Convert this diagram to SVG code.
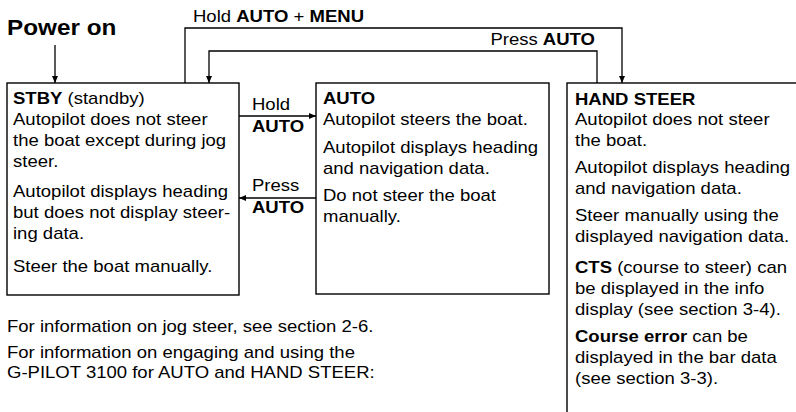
<svg xmlns="http://www.w3.org/2000/svg" width="796" height="412" viewBox="0 0 796 412">
<style>
text{font-family:"Liberation Sans",Arial,sans-serif;font-size:16.4px;fill:#000}
.b{font-weight:bold}
.box{fill:#fff;stroke:#000;stroke-width:1.4}
.con{fill:none;stroke:#000;stroke-width:1.3}
</style>
<defs>
<marker id="ah" markerWidth="8" markerHeight="8" refX="7" refY="4" orient="auto" markerUnits="userSpaceOnUse">
<path d="M0,1 L7,4 L0,7 Z" fill="#000"/>
</marker>
</defs>
<rect width="796" height="412" fill="#fff"/>
<g id="title" transform="translate(7 0) scale(1.13 1)"><text class="b" y="35" style="font-size:21.5px">Power on</text></g>
<g id="connectors">
<line class="con" x1="55" y1="45" x2="55" y2="83" marker-end="url(#ah)"/>
<polyline class="con" points="185,83 185,28 622,28 622,83" marker-end="url(#ah)"/>
<polyline class="con" points="597,83 597,51 209,51 209,83" marker-end="url(#ah)"/>
<line class="con" x1="239" y1="116" x2="316" y2="116" marker-end="url(#ah)"/>
<line class="con" x1="316" y1="198" x2="239" y2="198" marker-end="url(#ah)"/>
<g transform="translate(193 0) scale(1.13 1)"><text y="22">Hold <tspan class="b">AUTO</tspan> + <tspan class="b">MENU</tspan></text></g>
<g transform="translate(595 0) scale(1.13 1)"><text y="45" text-anchor="end">Press <tspan class="b">AUTO</tspan></text></g>
<g transform="translate(252 0) scale(1.13 1)"><text y="110">Hold</text><text class="b" y="132">AUTO</text><text y="191">Press</text><text class="b" y="213">AUTO</text></g>
</g>
<g id="stby">
<rect class="box" x="7" y="83" width="232" height="212"/>
<g transform="translate(13 0) scale(1.13 1)">
<text y="104"><tspan class="b">STBY</tspan> (standby)</text>
<text y="125">Autopilot does not steer</text>
<text y="146">the boat except during jog</text>
<text y="167">steer.</text>
<text y="197">Autopilot displays heading</text>
<text y="218">but does not display steer-</text>
<text y="239">ing data.</text>
<text y="272">Steer the boat manually.</text>
</g>
</g>
<g id="auto">
<rect class="box" x="316" y="83" width="233" height="211"/>
<g transform="translate(323 0) scale(1.13 1)">
<text class="b" y="104">AUTO</text>
<text y="125">Autopilot steers the boat.</text>
<text y="153">Autopilot displays heading</text>
<text y="174">and navigation data.</text>
<text y="201">Do not steer the boat</text>
<text y="222">manually.</text>
</g>
</g>
<g id="hand-steer">
<rect class="box" x="567" y="83" width="240" height="340"/>
<g transform="translate(575 0) scale(1.13 1)">
<text class="b" y="105">HAND STEER</text>
<text y="125">Autopilot does not steer</text>
<text y="146">the boat.</text>
<text y="173">Autopilot displays heading</text>
<text y="194">and navigation data.</text>
<text y="221">Steer manually using the</text>
<text y="242">displayed navigation data.</text>
<text y="273"><tspan class="b">CTS</tspan> (course to steer) can</text>
<text y="294">be displayed in the info</text>
<text y="315">display (see section 3-4).</text>
<text y="342"><tspan class="b">Course error</tspan> can be</text>
<text y="363">displayed in the bar data</text>
<text y="384">(see section 3-3).</text>
</g>
</g>
<g id="notes" transform="translate(7 0) scale(1.13 1)">
<text y="332">For information on jog steer, see section 2-6.</text>
<text y="358">For information on engaging and using the</text>
<text y="378">G-PILOT 3100 for AUTO and HAND STEER:</text>
</g>
</svg>
